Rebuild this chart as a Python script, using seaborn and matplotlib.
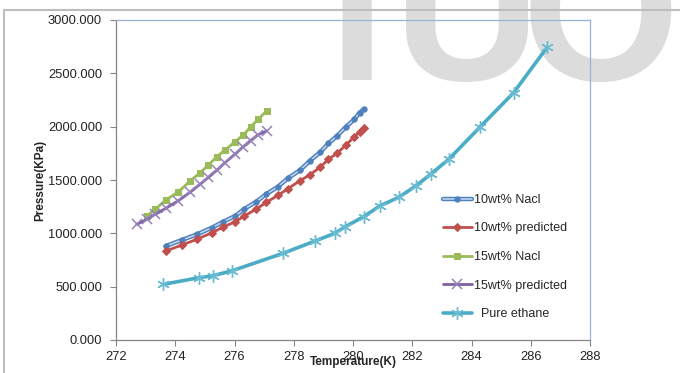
import pandas as pd
import numpy as np
import matplotlib.pyplot as plt
import seaborn as sns
from matplotlib.legend_handler import HandlerTuple
from matplotlib.patches import Rectangle

# data
t_10 = [273.68, 274.22, 274.73, 275.24, 275.60, 276.02, 276.33, 276.72, 277.07, 277.46,
        277.80, 278.22, 278.55, 278.89, 279.17, 279.47, 279.77, 280.05, 280.22, 280.38]
p_10_nacl = [881, 937, 990, 1053, 1106, 1162, 1228, 1294, 1366, 1436,
             1515, 1594, 1681, 1759, 1843, 1915, 2000, 2069, 2131, 2166]
p_10_pred = [834, 890, 944, 1006, 1056, 1109, 1162, 1225, 1290, 1355,
             1418, 1495, 1550, 1620, 1694, 1752, 1830, 1906, 1950, 1991]

t_15_nacl = [273.04, 273.32, 273.68, 274.10, 274.50, 274.84, 275.12, 275.40, 275.68,
             276.02, 276.30, 276.55, 276.80, 277.09]
p_15_nacl = [1162, 1225, 1312, 1388, 1490, 1568, 1640, 1718, 1781,
             1859, 1922, 2000, 2069, 2150]

t_15_pred = [272.70, 273.04, 273.32, 273.68, 274.10, 274.50, 274.84, 275.12, 275.40,
             275.68, 276.02, 276.30, 276.55, 276.80, 277.09]
p_15_pred = [1084, 1131, 1178, 1234, 1305, 1385, 1460, 1525, 1590,
             1662, 1743, 1813, 1870, 1925, 1960]

t_pure = [273.60, 274.80, 275.27, 275.93, 277.63, 278.72, 279.38, 279.74, 280.36,
          280.90, 281.54, 282.13, 282.63, 283.23, 284.30, 285.42, 286.55]
p_pure = [522, 584, 603, 650, 812, 928, 1000, 1062, 1156,
          1256, 1337, 1446, 1556, 1694, 2000, 2318, 2743]

x_ticks = [272, 274, 276, 278, 280, 282, 284, 286, 288]
y_ticks = [0, 500, 1000, 1500, 2000, 2500, 3000]

# %%
sns.set_style('ticks')
plt.rcParams['font.family'] = ['Liberation Sans', 'DejaVu Sans']

fig = plt.figure(figsize=(6.8, 3.73), dpi=100)

# watermark letters (top cut off by the page) and outer chart border
for letter, xpx in [('I', 328), ('U', 394), ('O', 522)]:
    fig.text(xpx / 680, 1 - 80 / 373, letter, fontsize=146, fontweight='bold',
             color='#DCDCDC', va='baseline', ha='left', zorder=-2)
fig.patches.append(Rectangle((4 / 680, -0.1), 1.2, 1 - 10 / 373 + 0.1,
                             transform=fig.transFigure, fill=False,
                             edgecolor='#BDBDBD', lw=1.5, zorder=-1))

ax = fig.add_axes([116 / 680, 1 - 340 / 373, 474 / 680, 320 / 373])
ax.set_facecolor('none')

df_10n = pd.DataFrame({'T': t_10, 'P': p_10_nacl})
df_10p = pd.DataFrame({'T': t_10, 'P': p_10_pred})
df_15n = pd.DataFrame({'T': t_15_nacl, 'P': p_15_nacl})
df_15p = pd.DataFrame({'T': t_15_pred, 'P': p_15_pred})
df_pure = pd.DataFrame({'T': t_pure, 'P': p_pure})

# 10wt% Nacl drawn as a double line
sns.lineplot(x='T', y='P', data=df_10n, ax=ax, sort=False, estimator=None,
             color='#4F81BD', lw=3.2, label='_base')
sns.lineplot(x='T', y='P', data=df_10n, ax=ax, sort=False, estimator=None,
             color='#C6D9F1', lw=1.1, marker='o', ms=3.8, mfc='#4F81BD', mec='#4F81BD',
             label='_top')
sns.lineplot(x='T', y='P', data=df_10p, ax=ax, sort=False, estimator=None,
             color='#C0504D', lw=2, marker='D', ms=3.8, mec='#C0504D', label='_p10')
sns.lineplot(x='T', y='P', data=df_15n, ax=ax, sort=False, estimator=None,
             color='#9BBB59', lw=2, marker='s', ms=4.5, mec='#9BBB59', label='_n15')
sns.lineplot(x='T', y='P', data=df_15p, ax=ax, sort=False, estimator=None,
             color='#7F60A8', lw=2, marker='x', ms=7, mew=1.1, mec='#9483B8', label='_p15')
sns.lineplot(x='T', y='P', data=df_pure, ax=ax, sort=False, estimator=None,
             color='#4BACC6', lw=2.6, marker=(6, 2, 0), ms=9, mew=1, mec='#6BBCD3',
             label='_pure')

lines = ax.get_lines()

ax.set_xlim(272, 288)
ax.set_ylim(0, 3000)
ax.set_xticks(x_ticks)
ax.set_yticks(y_ticks)
ax.set_yticklabels(['%.3f' % v for v in y_ticks])
ax.tick_params(labelsize=9.3, length=4, width=0.8, color='#868686', labelcolor='#222222')
ax.tick_params(axis='y', pad=6)
ax.tick_params(axis='x', pad=4)

for s in ['left', 'bottom']:
    ax.spines[s].set_color('#868686')
    ax.spines[s].set_linewidth(0.9)
for s in ['top', 'right']:
    ax.spines[s].set_color('#95B3D7')
    ax.spines[s].set_linewidth(0.9)

ax.set_xlabel('Temperature(K)', fontsize=8.5, fontweight='bold', labelpad=-5)
ax.set_ylabel('Pressure(KPa)', fontsize=8.5, fontweight='bold', labelpad=1)

handles = [(lines[0], lines[1]), lines[2], lines[3], lines[4], lines[5]]
labels = ['10wt% Nacl', '10wt% predicted', '15wt% Nacl', '15wt% predicted', '  Pure ethane']
ax.legend(handles, labels, handler_map={tuple: HandlerTuple(ndivide=1, pad=0)},
          loc='center left', bbox_to_anchor=(443 / 680, 1 - 257 / 373),
          bbox_transform=fig.transFigure, frameon=False, fontsize=9,
          handlelength=2.3, handletextpad=0.15, labelspacing=1.32,
          borderpad=0, borderaxespad=0, numpoints=1)

fig.savefig('out.png', dpi=100)
